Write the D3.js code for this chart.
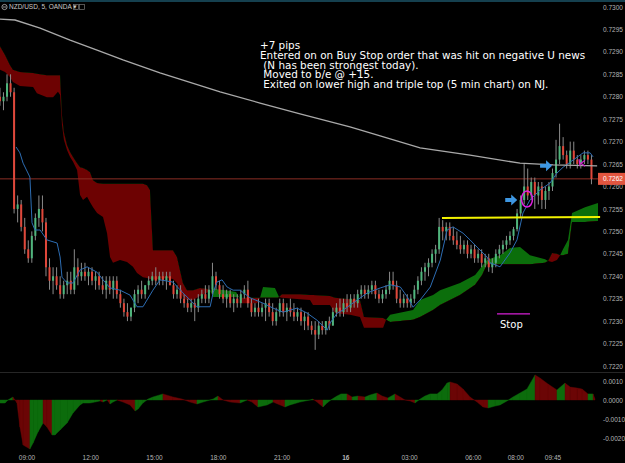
<!DOCTYPE html>
<html>
<head>
<meta charset="utf-8">
<script src="https://cdn.jsdelivr.net/npm/d3@7"></script>
<style>
  html, body { margin: 0; padding: 0; background: #000; }
  svg { display: block; }
</style>
</head>
<body>
<div id="chart"></div>
<script>
// prices are in pips above 0.7200, times in hours from 00:00 of the 15th
var BASE = 0.72;
var barStart = 7.75;   // first 10 min bar at 07:45
var barStep = 1 / 6;

// [open, high, low, close]
var candles = [
  [80,82,78,79],[79,81,77,80],[80,85,79,83],[83,85,80,81],[81,82,54,55],[55,58,52,56],[56,57,50,51],[51,53,45,46],
  [46,48,43,44],[44,50,43,49],[49,54,48,53],[53,58,51,55],[55,58,50,52],[52,53,40,42],[42,44,37,39],[39,42,36,40],
  [40,42,37,38],[38,40,35,36],[36,39,35,38],[38,41,36,39],[39,41,36,37],[37,46,36,42],[42,44,38,40],[40,43,39,41],
  [41,43,39,40],[40,42,38,41],[41,42,38,39],[39,41,37,40],[40,41,37,38],[38,40,36,37],[37,40,35,39],[39,40,36,37],
  [37,40,35,39],[39,40,35,36],[36,37,33,34],[34,35,31,32],[32,34,30,31],[31,33,30,33],[33,37,32,36],[36,38,34,37],
  [37,39,35,36],[36,38,35,38],[38,40,37,39],[39,41,38,40],[40,42,38,39],[39,41,38,40],[40,41,38,39],[39,41,37,40],
  [40,41,38,38],[38,39,35,36],[36,38,35,37],[37,38,34,35],[35,36,33,34],[34,35,32,33],[33,35,32,34],[34,35,30,33],
  [33,36,32,35],[35,37,34,36],[36,38,34,35],[35,38,34,37],[37,43,36,40],[40,41,37,38],[38,39,35,36],[36,38,34,35],
  [35,37,33,36],[36,37,33,34],[34,36,32,35],[35,36,33,34],[34,37,33,36],[36,38,35,37],[37,39,33,34],[34,35,31,32],
  [32,34,31,33],[33,35,31,32],[32,34,31,33],[33,35,30,34],[34,35,31,32],[32,34,29,30],[30,33,29,32],[32,35,31,34],
  [34,35,31,32],[32,34,30,33],[33,35,31,32],[32,34,30,31],[31,33,30,32],[32,33,29,30],[30,32,28,31],[31,32,28,29],
  [29,30,27,28],[28,30,23.6,27],[27,30,26,29],[29,30,27,28],[28,30,27,30],[30,31,28,29],[29,33,29,32],[32,34,31,33],
  [33,35,31,32],[32,35,31,34],[34,36,32,33],[33,36,32,35],[35,36,33,34],[34,37,33,36],[36,38,35,37],[37,38,35,36],
  [36,38,35,37],[37,39,36,38],[38,39,35,36],[36,37,34,35],[35,37,34,36],[36,38,35,37],[37,41,36,39],[39,41,37,38],
  [38,39,34,35],[35,37,33,34],[34,36,33,35],[35,36,33,34],[34,36,33,35],[35,38,34,37],[37,40,36,39],[39,42,38,41],
  [41,43,39,42],[42,44,40,43],[43,46,42,45],[45,47,43,46],[46,53,45,51],[51,52.5,48,50],[50,52,48,51],[51,52,48,49],
  [49,51,47,48],[48,50,46,47],[47,49,45,46],[46,48,45,47],[47,48,44,45],[45,47,44,46],[46,47,43,44],[44,46,43,45],
  [45,46,42,43],[43,45,42,44],[44,45,41,42],[42,44,40.7,43],[43,46,42,45],[45,47,44,46],[46,48,45,47],[47,49,46,48],
  [48,50,47,49],[49,51,48,50.5],[50.5,55,50,54],[54,58,53,57],[57,65,56,60],[60,64,57,58],[58,62,57,61],[61,62,55,58],
  [58,61,56,60],[60,61,55,57],[57,60,55,59],[59,61,57,60],[60,64,59,63],[63,70.4,62,66],[66,74,65,69],[69,71,66,67],
  [67,68,64,65],[65,70,64,68],[68,70,65,66],[66,67,64,65],[65,67,64,66],[66,68,65,67],[67,68,65,66],[66,67,60.5,61.7]
];

// slow moving average (grey)
var ma = [[7.75,97.3],[8.46,97.1],[9.64,95.3],[11.05,92.6],[12.32,90.4],[13.54,88.2],[15.28,85.3],[18.11,81.1],
  [19.99,78.6],[21.87,76.2],[24.22,73.3],[25.64,71.3],[27.52,68.6],[29.87,67.0],[32.22,65.2],[33.78,64.8],[35.85,64.6]];

// blue line
var kijun = [[8.51,68.8],[8.69,67.5],[8.84,65.2],[9.16,62.1],[9.26,51.9],[9.40,50.3],[9.64,50.3],[9.96,48.1],
  [10.44,47.4],[10.58,44.3],[10.67,39.8],[10.91,38.5],[11.19,38.5],[11.52,41.4],[11.85,42.1],[12.32,40.9],
  [12.60,39.2],[12.93,37.4],[13.40,36.9],[13.87,35.8],[14.20,33.2],[14.48,33.2],[14.95,36.9],[15.28,39.2],
  [15.89,38.7],[16.36,36.3],[17.02,33.2],[17.64,33.2],[17.78,36.3],[17.96,38.7],[18.20,39.2],[18.44,37.6],
  [18.72,36.9],[19.05,36.9],[19.52,35.2],[20.13,34.0],[20.60,32.9],[21.07,32.0],[21.73,32.9],[22.20,31.8],
  [22.67,30.2],[23.15,28.0],[23.29,29.6],[23.62,31.8],[23.91,32.5],[24.56,34.7],[25.04,36.3],[25.65,37.4],
  [26.12,38.1],[26.59,37.6],[26.92,35.4],[27.19,33.1],[27.52,34.7],[28.00,37.6],[28.47,43.6],[28.79,50.3],
  [29.07,51.0],[29.54,49.6],[29.87,48.1],[30.20,46.5],[30.67,44.3],[30.81,43.0],[31.28,42.1],[31.75,45.2],
  [32.08,48.1],[32.36,54.1],[32.69,57.0],[33.16,59.2],[33.64,60.8],[33.96,63.0],[34.25,64.3],[34.72,65.9],
  [35.19,67.5],[35.52,67.5],[35.66,66.6]];

// cloud: [hour, span A, span B]
var cloud = [[7.75,86.0,91.3],[7.99,85.5,89.3],[8.22,84.4,87.1],[8.36,83.3,86.0],[8.69,82.4,85.5],[9.31,82.2,85.3],
  [9.49,80.8,85.1],[9.96,79.9,84.8],[10.25,79.9,84.8],[10.48,81.1,84.8],[10.58,80.4,84.8],[10.67,73.7,75.9],
  [10.76,70.4,72.1],[10.91,68.1,69.2],[11.05,66.6,67.7],[11.19,65.5,66.6],[11.38,63.7,65.2],[11.52,58.1,64.3],
  [11.66,57.0,64.1],[11.85,57.7,63.7],[11.99,56.5,63.2],[12.13,55.4,61.4],[12.32,54.1,60.8],[12.60,53.2,60.6],
  [12.79,49.6,60.6],[12.93,44.3,60.6],[13.07,43.0,60.6],[13.40,43.6,60.6],[13.73,43.2,60.6],[14.01,42.1,60.6],
  [14.20,40.7,60.6],[14.48,39.8,60.6],[14.67,39.6,60.3],[14.81,39.4,59.2],[14.95,39.2,45.8],[15.61,39.6,45.8],
  [15.89,39.4,45.8],[16.08,38.5,44.3],[16.36,35.4,38.5],[16.55,34.7,36.9],[16.84,34.7,36.9],[17.16,35.6,37.4],
  [17.49,36.3,37.2],[17.64,36.7,36.7],[17.78,37.2,35.4],[18.34,36.9,35.4],[18.86,36.5,35.4],[19.00,35.4,35.4],
  [19.14,34.0,35.2],[19.85,34.0,35.2],[19.99,35.2,35.2],[20.13,37.6,35.2],[20.69,37.4,35.2],[20.84,35.8,35.2],
  [20.88,35.4,35.4],[21.02,35.2,36.0],[21.87,34.9,36.0],[22.34,34.7,35.8],[22.48,33.6,35.8],[23.28,33.6,35.6],
  [23.52,31.8,35.2],[24.22,31.4,34.9],[24.69,30.9,34.7],[24.88,28.5,30.9],[25.78,28.5,30.7],[25.92,30.3,30.3],
  [26.11,31.4,29.8],[27.19,32.5,30.3],[27.52,34.7,30.9],[28.13,35.8,32.5],[28.46,36.9,33.6],[29.40,38.5,35.8],
  [30.11,40.3,38.1],[30.44,42.3,40.3],[30.67,43.6,42.7],[31.28,44.7,42.7],[31.75,46.3,42.7],[32.22,46.5,42.7],
  [32.69,44.7,42.7],[33.40,43.8,43.0],[33.54,43.4,43.4],[33.73,43.2,45.2],[33.96,43.6,45.0],[34.11,44.7,44.7],
  [34.25,46.1,44.7],[34.48,48.1,45.0],[34.67,54.1,52.1],[35.28,55.4,52.1],[35.89,56.3,52.3]];

// oscillator, units of 0.0001
var osc = [[7.75,-1.6],[7.99,-1.6],[8.13,0],[8.36,1.6],[8.46,0],[8.55,-1.6],[8.69,-14.2],[8.84,-23.7],[9.16,-25.8],
  [9.31,-22.6],[9.54,-16.8],[9.78,-12.1],[9.96,-14.2],[10.20,-18.4],[10.34,-18.4],[10.58,-15.8],[10.91,-12.1],
  [11.19,-6.8],[11.52,-2.6],[11.66,-1.6],[11.99,-1.6],[12.22,-1.1],[12.46,-0.5],[12.60,-1.1],[12.79,0],[12.93,-2.1],
  [13.07,-1.1],[13.26,0],[13.54,-1.1],[13.87,-2.6],[14.11,-5.8],[14.25,-4.7],[14.48,-1.6],[14.72,0.5],[14.95,1.6],
  [15.42,3.2],[15.89,1.6],[16.32,0.5],[16.69,-1.1],[17.02,-2.1],[17.31,-1.1],[17.78,0.5],[18.01,2.1],[18.25,0],
  [18.58,-1.1],[19.05,-1.6],[19.38,0],[19.61,-1.1],[19.89,-3.7],[20.32,-2.6],[20.60,-1.1],[20.93,-2.6],[21.16,-3.7],
  [21.40,-2.6],[21.87,-1.1],[22.34,0],[22.48,0.5],[22.67,-1.1],[22.95,-3.7],[23.14,-1.6],[23.38,0.5],[23.61,2.1],
  [23.80,3.2],[24.08,3.2],[24.32,1.6],[24.60,2.1],[24.93,1.6],[25.16,2.6],[25.49,3.7],[25.73,2.1],[26.01,1.1],
  [26.34,3.2],[26.58,1.6],[26.81,0],[27.05,-0.5],[27.28,-1.6],[27.52,0.5],[27.75,2.1],[27.99,3.2],[28.32,3.2],
  [28.55,5.3],[28.79,8.9],[28.93,9.5],[29.26,8.4],[29.54,5.8],[29.87,1.6],[30.20,-1.1],[30.48,-3.7],[30.72,-4.2],
  [31.05,-3.2],[31.28,-2.6],[31.61,-0.5],[31.89,1.6],[32.22,3.7],[32.55,5.8],[32.93,13.2],[33.16,11.6],[33.54,8.4],
  [33.96,5.3],[34.34,8.9],[34.58,6.8],[34.91,6.3],[35.14,5.8],[35.42,3.2],[35.66,3.2],[35.75,0.5]];

var timeTicks = [9, 12, 15, 18, 21, 24, 27, 30, 32, 33.75];
var timeLabels = ['09:00', '12:00', '15:00', '18:00', '21:00', '16', '03:00', '06:00', '08:00', '09:45'];
var priceTicks = [20, 25, 30, 35, 40, 45, 50, 55, 60, 65, 70, 75, 80, 85, 90, 95, 100];
var oscTicks = [10, 0, -10, -20];
var lastPrice = 61.7;

var notes = ['+7 pips',
  'Entered on on Buy Stop order that was hit on negative U news',
  ' (N has been strongest today).',
  ' Moved to b/e @ +15.',
  ' Exited on lower high and triple top (5 min chart) on NJ.'];
var yellowLine = [[28.55, 53.0], [35.99, 53.2]];
var stopLine = [[31.14, 31.6], [32.69, 31.6]];
var arrows = [[32.09, 57.0], [33.73, 64.6]];
var entryMark = [32.55, 57.2];
var exitMark = [35.14, 65.2];

var svgWidth = 625, svgHeight = 463;
var plotRight = 598, mainBottom = 372;
var upColor = '#4fb57c', downColor = '#e0473a';
var cloudGreen = '#0b6e0b', cloudRed = '#6d0202';

var svg = d3.select('#chart')
  .append('svg')
  .attr('width', svgWidth)
  .attr('height', svgHeight)
  .style('background', '#000');

var xScale = d3.scaleLinear().domain([9, 33.75]).range([26.5, 552.5]);
var yScale = d3.scaleLinear().domain([20, 100]).range([366, 7]);
var oScale = d3.scaleLinear().domain([-20, 10]).range([438, 381]);

var defs = svg.append('defs');
defs.append('clipPath').attr('id', 'mainClip')
  .append('rect').attr('x', 0).attr('y', 0).attr('width', plotRight).attr('height', mainBottom);
defs.append('clipPath').attr('id', 'oscClip')
  .append('rect').attr('x', 0).attr('y', mainBottom).attr('width', plotRight).attr('height', svgHeight - mainBottom);
// difference-chart clips: above span B -> green, below span B -> red
defs.append('clipPath').attr('id', 'clipGreen').append('path')
  .attr('d', d3.area().x(d => xScale(d[0])).y0(0).y1(d => yScale(d[2]))(cloud));
defs.append('clipPath').attr('id', 'clipRed').append('path')
  .attr('d', d3.area().x(d => xScale(d[0])).y0(mainBottom).y1(d => yScale(d[2]))(cloud));

// top strip
svg.append('rect').attr('x', 0).attr('y', 0).attr('width', svgWidth).attr('height', 2).attr('fill', '#15404f');

var main = svg.append('g').attr('clip-path', 'url(#mainClip)');

// cloud
var cloudArea = d3.area().x(d => xScale(d[0])).y0(d => yScale(d[1])).y1(d => yScale(d[2]));
main.append('path').attr('d', cloudArea(cloud)).attr('fill', cloudGreen).attr('clip-path', 'url(#clipGreen)');
main.append('path').attr('d', cloudArea(cloud)).attr('fill', cloudRed).attr('clip-path', 'url(#clipRed)');

// last price line
main.append('line')
  .attr('x1', 0).attr('x2', plotRight)
  .attr('y1', yScale(lastPrice)).attr('y2', yScale(lastPrice))
  .attr('stroke', '#8c2e24').attr('stroke-width', 1);

// candles
var barX = (d, i) => xScale(barStart + i * barStep);
var candleG = main.append('g');
candleG.selectAll('line.wick')
  .data(candles)
  .enter()
  .append('line')
  .attr('class', 'wick')
  .attr('x1', barX).attr('x2', barX)
  .attr('y1', d => yScale(d[1])).attr('y2', d => yScale(d[2]))
  .attr('stroke', '#8a8a8a').attr('stroke-width', 1);
candleG.selectAll('rect.body')
  .data(candles)
  .enter()
  .append('rect')
  .attr('class', 'body')
  .attr('x', (d, i) => barX(d, i) - 1)
  .attr('width', 2)
  .attr('y', d => yScale(Math.max(d[0], d[3])))
  .attr('height', d => Math.max(1, Math.abs(yScale(d[0]) - yScale(d[3]))))
  .attr('fill', d => d[3] >= d[0] ? upColor : downColor);

// lines
var line = d3.line().x(d => xScale(d[0])).y(d => yScale(d[1]));
main.append('path').attr('d', line(kijun)).attr('fill', 'none').attr('stroke', '#2d6db3').attr('stroke-width', 1);
main.append('path').attr('d', line(ma)).attr('fill', 'none').attr('stroke', '#a9a9a9').attr('stroke-width', 1.3);

// yellow level
svg.append('path').attr('d', line(yellowLine)).attr('stroke', '#f2f200').attr('stroke-width', 2).attr('fill', 'none');

// stop marker
svg.append('path').attr('d', line(stopLine)).attr('stroke', '#d61fd6').attr('stroke-width', 1.2).attr('fill', 'none');
svg.append('text')
  .attr('x', xScale(stopLine[0][0]) + 3)
  .attr('y', yScale(stopLine[0][1]) + 14)
  .text('Stop')
  .attr('fill', '#fff')
  .attr('font-family', 'DejaVu Sans')
  .attr('font-size', 10);

// blue arrows
svg.selectAll('path.arrow')
  .data(arrows)
  .enter()
  .append('path')
  .attr('class', 'arrow')
  .attr('d', d => {
    var tx = xScale(d[0]), ty = yScale(d[1]);
    return `M${tx - 12},${ty - 2}L${tx - 6},${ty - 2}L${tx - 6},${ty - 5.5}L${tx},${ty}L${tx - 6},${ty + 5.5}L${tx - 6},${ty + 2}L${tx - 12},${ty + 2}Z`;
  })
  .attr('fill', '#3e97e2');

// entry ellipse and exit scribble
svg.append('ellipse')
  .attr('cx', xScale(entryMark[0])).attr('cy', yScale(entryMark[1]))
  .attr('rx', 5.5).attr('ry', 8)
  .attr('fill', 'none').attr('stroke', '#e020e0').attr('stroke-width', 1.5);
var ex = xScale(exitMark[0]), ey = yScale(exitMark[1]);
svg.append('path')
  .attr('d', `M${ex - 3},${ey - 4}L${ex - 2},${ey + 3}M${ex + 3},${ey - 3}L${ex - 1},${ey}L${ex + 3},${ey + 3}`)
  .attr('fill', 'none').attr('stroke', '#d020d0').attr('stroke-width', 1.2);

// notes
svg.append('g').selectAll('text')
  .data(notes)
  .enter()
  .append('text')
  .attr('x', 260)
  .attr('y', (d, i) => 49 + i * 9.8)
  .attr('fill', '#fff')
  .attr('font-family', 'DejaVu Sans')
  .attr('font-size', 10.4)
  .style('white-space', 'pre')
  .text(d => d);

// panel separator
svg.append('line')
  .attr('x1', 0).attr('x2', svgWidth)
  .attr('y1', mainBottom + 0.5).attr('y2', mainBottom + 0.5)
  .attr('stroke', '#262626');

// oscillator
var osg = svg.append('g').attr('clip-path', 'url(#oscClip)');
var oscArea = d3.area().x(d => xScale(d[0])).y0(oScale(0)).y1(d => oScale(d[1]));
osg.selectAll('path')
  .data(d3.pairs(osc))
  .enter()
  .append('path')
  .attr('d', d => oscArea(d))
  .attr('fill', d => d[1][1] >= d[0][1] ? '#0c6c0c' : '#6b0505')
  .attr('stroke', d => d[1][1] >= d[0][1] ? '#0c6c0c' : '#6b0505')
  .attr('stroke-width', 0.4);

// axes
var axisFont = 'Liberation Sans';
var yAxis = d3.axisRight(yScale)
  .tickValues(priceTicks)
  .tickSize(0)
  .tickPadding(4)
  .tickFormat(d => (BASE + d / 10000).toFixed(4));
var yAxisG = svg.append('g').attr('transform', `translate(${plotRight + 1},0)`).call(yAxis);

var oAxis = d3.axisRight(oScale)
  .tickValues(oscTicks)
  .tickSize(0)
  .tickPadding(4)
  .tickFormat(d => (d / 10000).toFixed(4));
var oAxisG = svg.append('g').attr('transform', `translate(${plotRight + 1},0)`).call(oAxis);

var xAxis = d3.axisBottom(xScale)
  .tickValues(timeTicks)
  .tickSize(0)
  .tickPadding(3)
  .tickFormat((d, i) => timeLabels[i]);
var xAxisG = svg.append('g').attr('transform', 'translate(0,452)').call(xAxis);

[yAxisG, oAxisG, xAxisG].forEach(g => {
  g.select('.domain').remove();
  g.selectAll('text')
    .attr('fill', '#b4b4b4')
    .attr('font-family', axisFont)
    .attr('font-size', 6.5);
});
xAxisG.selectAll('text').attr('font-weight', (d, i) => timeLabels[i] === '16' ? 'bold' : 'normal');

// last price tag
svg.append('rect')
  .attr('x', plotRight).attr('y', yScale(lastPrice) - 6)
  .attr('width', 27).attr('height', 12)
  .attr('fill', '#e2553f');
svg.append('text')
  .attr('x', plotRight + 5).attr('y', yScale(lastPrice) + 2.3)
  .text((BASE + lastPrice / 10000).toFixed(4))
  .attr('fill', '#fff')
  .attr('font-family', axisFont)
  .attr('font-size', 6.5);

// symbol title
svg.append('circle').attr('cx', 4.5).attr('cy', 7).attr('r', 2.6)
  .attr('fill', 'none').attr('stroke', '#bbb').attr('stroke-width', 0.8);
svg.append('line').attr('x1', 3).attr('x2', 6).attr('y1', 7).attr('y2', 7).attr('stroke', '#bbb').attr('stroke-width', 0.8);
svg.append('text')
  .attr('x', 9).attr('y', 9.3)
  .text('NZD/USD, 5, OANDA \u25BE')
  .attr('fill', '#c8c8c8')
  .attr('font-family', axisFont)
  .attr('font-size', 6.5);
[73.5, 79.5].forEach(x => {
  svg.append('rect').attr('x', x).attr('y', 4.5).attr('width', 5).attr('height', 5)
    .attr('fill', 'none').attr('stroke', '#777').attr('stroke-width', 0.7);
});
</script>
</body>
</html>
